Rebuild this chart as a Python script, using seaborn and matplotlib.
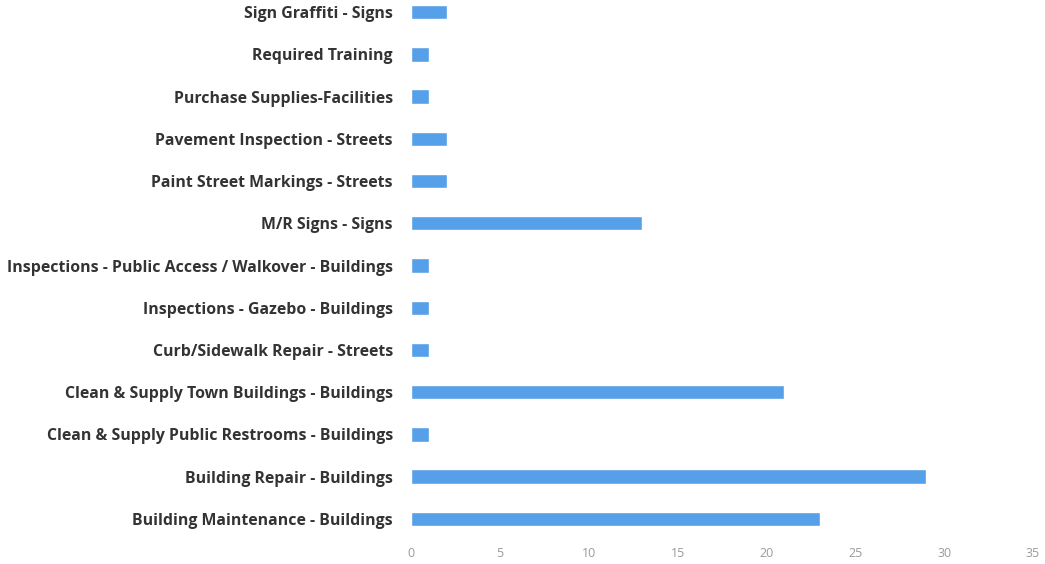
import matplotlib
matplotlib.use("Agg")
import matplotlib.pyplot as plt
import seaborn as sns
import pandas as pd

tasks = [
    "Sign Graffiti - Signs",
    "Required Training",
    "Purchase Supplies-Facilities",
    "Pavement Inspection - Streets",
    "Paint Street Markings - Streets",
    "M/R Signs - Signs",
    "Inspections - Public Access / Walkover - Buildings",
    "Inspections - Gazebo - Buildings",
    "Curb/Sidewalk Repair - Streets",
    "Clean & Supply Town Buildings - Buildings",
    "Clean & Supply Public Restrooms - Buildings",
    "Building Repair - Buildings",
    "Building Maintenance - Buildings",
]
counts = [2, 1, 1, 2, 2, 13, 1, 1, 1, 21, 1, 29, 23]
x_ticks = [0, 5, 10, 15, 20, 25, 30, 35]

df = pd.DataFrame({"task": tasks, "count": counts})

sns.set_theme(style="white")
plt.rcParams["font.family"] = ["Open Sans", "DejaVu Sans"]

fig = plt.figure(figsize=(10.45, 5.64), dpi=100)
W, H = 1045, 564
left, right = 411, 1033
top_px, bottom_px = -9, 540
ax = fig.add_axes([left / W, (H - bottom_px) / H, (right - left) / W, (bottom_px - top_px) / H])

sns.barplot(data=df, x="count", y="task", order=tasks, color="#56a0e9",
            width=0.34, orient="h", ax=ax, saturation=1)

ax.set_xlim(0, 35)
ax.set_ylim(len(tasks) - 0.5, -0.5)
ax.set_xticks(x_ticks)
ax.set_xticklabels([str(t) for t in x_ticks], fontsize=9, color="#9a9a9a")
ax.set_xlabel("")
ax.set_ylabel("")
for lbl in ax.get_yticklabels():
    lbl.set_fontsize(11.4)
    lbl.set_fontweight("bold")
    lbl.set_color("#333333")
ax.tick_params(axis="y", length=0, pad=13)
ax.tick_params(axis="x", length=0, pad=5)
sns.despine(ax=ax, left=True, bottom=True)
ax.grid(False)

fig.savefig("out.png", dpi=100)
